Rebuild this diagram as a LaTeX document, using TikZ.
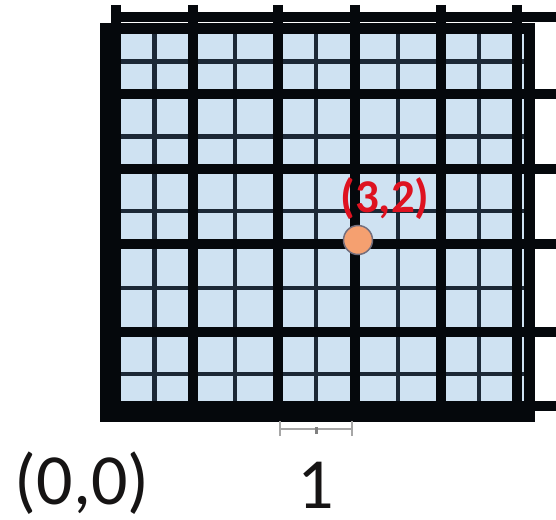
\documentclass[tikz,border=0pt]{standalone}
\usepackage{fontspec}
\setmainfont{Carlito}
\definecolor{cellblue}{RGB}{207,226,242}
\definecolor{minorline}{RGB}{28,40,54}
\definecolor{majorline}{RGB}{5,8,12}
\definecolor{dotfill}{RGB}{245,160,112}
\definecolor{dotedge}{RGB}{115,110,125}
\definecolor{labelred}{RGB}{222,18,32}
\definecolor{textdark}{RGB}{22,20,20}
\tikzset{
  minorrule/.style={draw=minorline,line width=4.5pt},
  majorrule/.style={draw=majorline,line width=10.5pt},
  framerule/.style={draw=majorline,line width=11pt},
  scalebar/.style={draw=gray!70,line width=2pt},
  bigtext/.style={font=\fontsize{72}{80}\selectfont,text=textdark,anchor=base,inner sep=0pt},
}
\begin{document}
\begin{tikzpicture}[x=1pt,y=-1pt]
\useasboundingbox (0,0) rectangle (556,519);
% cell background
\fill[cellblue] (105,29) rectangle (529,416);
% minor lines
\foreach \xx in {154.5,235,316,398,479}
  \draw[minorrule] (\xx,29) -- (\xx,416);
\foreach \yy in {61.5,136.5,211,288,374}
  \draw[minorrule] (105,\yy) -- (529,\yy);
% major lines (extending up and to the right)
\foreach \xx in {116,193,278,355,441,517}
  \draw[majorrule] (\xx,5) -- (\xx,412);
\draw[majorrule] (112,17) -- (556,17);
\foreach \yy in {94,169,244,332,406}
  \draw[majorrule] (105,\yy) -- (556,\yy);
% frame
\draw[framerule] (105,29) rectangle (529,416);
% unit scale bar
\coordinate (barL) at (280,429);
\coordinate (barR) at (352,429);
\coordinate (barM) at (316,429);
\draw[scalebar] (barL) -- (barR);
\draw[scalebar] ([yshift=-7pt]barL) -- ([yshift=8pt]barL);
\draw[scalebar] ([yshift=-7pt]barR) -- ([yshift=8pt]barR);
\draw[draw=gray,line width=3pt] ([yshift=-5pt]barM) -- ([yshift=2pt]barM);
% point
\node[circle,fill=dotfill,draw=dotedge,line width=1.5pt,minimum size=29pt,inner sep=0pt] (pt) at (358,240) {};
\node[font=\bfseries\fontsize{47}{52}\selectfont,text=labelred,anchor=base,inner sep=0pt] (ptlabel) at (385,212) {(3,2)};
% labels
\node[bigtext] (origin) at (82,504) {(0,0)};
\node[bigtext] (unit) at (316,508) {1};
\end{tikzpicture}
\end{document}
